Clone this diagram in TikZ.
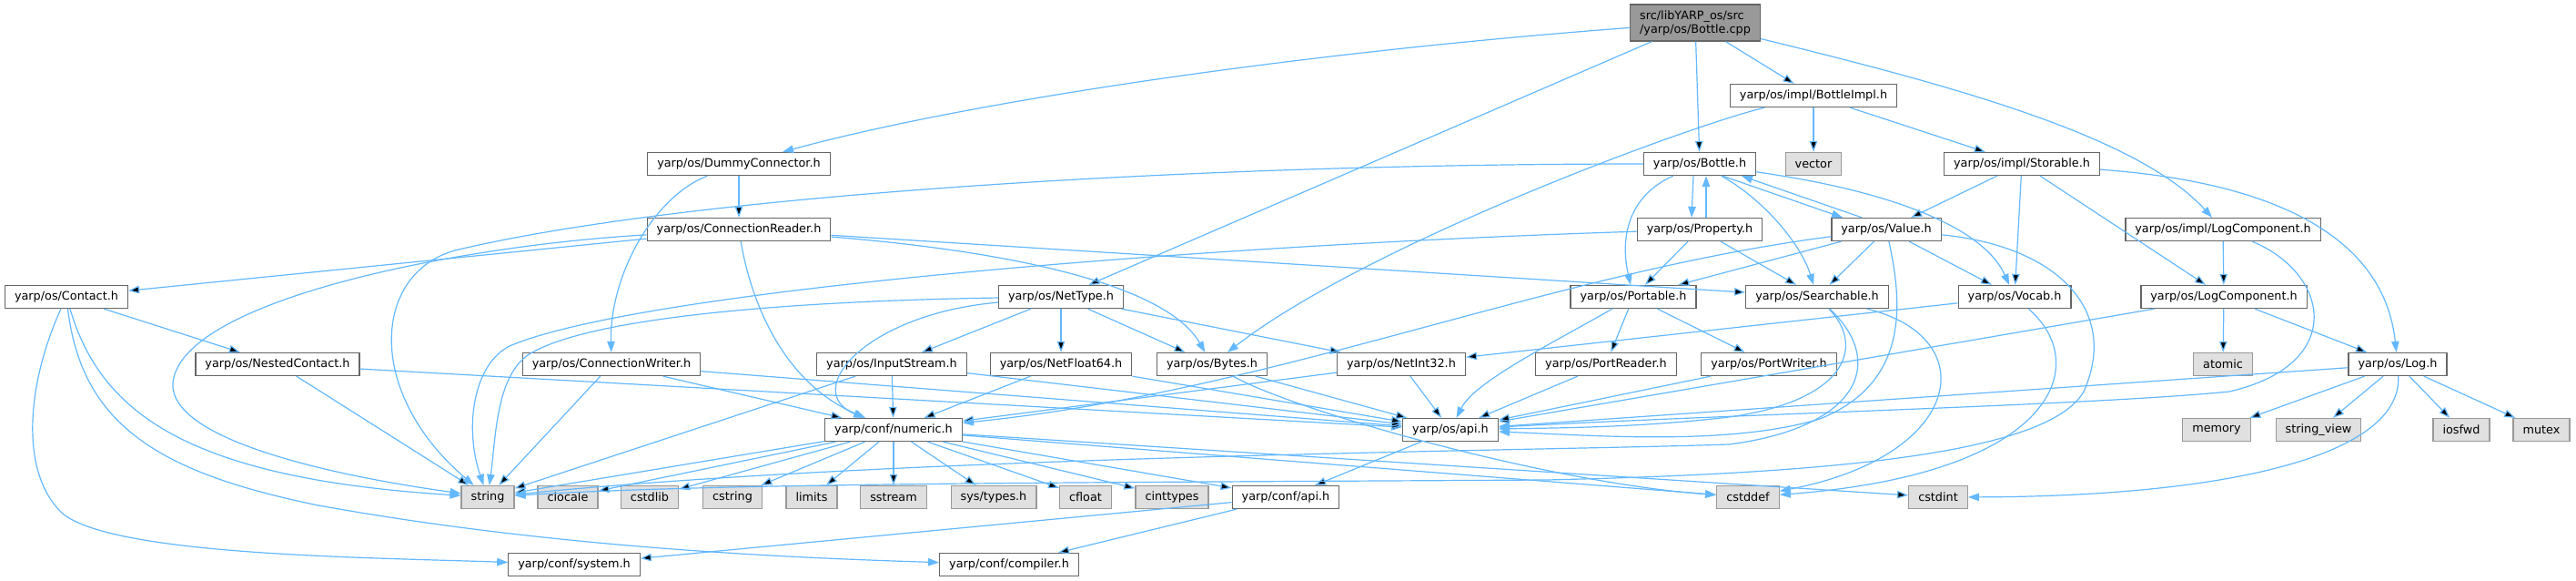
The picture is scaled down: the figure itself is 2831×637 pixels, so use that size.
\documentclass[tikz,border=0pt]{standalone}
\usepackage{fontspec}
\setmainfont{DejaVu Sans}
\usetikzlibrary{arrows.meta}
\definecolor{edgeblue}{HTML}{63B8FF}
\definecolor{boxline}{HTML}{666666}
\definecolor{sysline}{HTML}{999999}
\definecolor{sysfill}{HTML}{E0E0E0}
\definecolor{rootfill}{HTML}{999999}
\tikzset{
  incbox/.style={draw=boxline, fill=white, line width=1.3pt, minimum height=25pt,
    inner xsep=10.5pt, inner ysep=0pt, font=\fontsize{12.8}{15}\selectfont},
  sysbox/.style={incbox, draw=sysline, fill=sysfill},
  rootbox/.style={incbox, fill=rootfill, minimum height=40pt, align=left},
  dep/.style={draw=edgeblue, line width=1.2pt, -{Triangle[length=12pt,width=8.5pt]}}
}
\begin{document}
\begin{tikzpicture}[x=1pt,y=-1pt]
\useasboundingbox (0,0) rectangle (2831,637);
% rows of headers, top to bottom
\node[rootbox] (bottle_cpp) at (1863,25) {src/libYARP\_os/src\\/yarp/os/Bottle.cpp};
\node[incbox] (bottle_impl) at (1993,105) {yarp/os/impl/BottleImpl.h};

\node[incbox] (dummy_connector) at (812,180) {yarp/os/DummyConnector.h};
\node[incbox] (bottle_h) at (1868,180) {yarp/os/Bottle.h};
\node[sysbox] (vector) at (1993,180) {vector};
\node[incbox] (storable) at (2222,180) {yarp/os/impl/Storable.h};

\node[incbox] (connection_reader) at (812,252) {yarp/os/ConnectionReader.h};
\node[incbox] (property) at (1868,252) {yarp/os/Property.h};
\node[incbox] (value) at (2073,252) {yarp/os/Value.h};
\node[incbox] (impl_log_component) at (2443,252) {yarp/os/impl/LogComponent.h};

\node[incbox] (contact) at (73,326) {yarp/os/Contact.h};
\node[incbox] (net_type) at (1166,326) {yarp/os/NetType.h};
\node[incbox] (portable) at (1795,326) {yarp/os/Portable.h};
\node[incbox] (searchable) at (1997,326) {yarp/os/Searchable.h};
\node[incbox] (vocab) at (2214,326) {yarp/os/Vocab.h};
\node[incbox] (log_component) at (2444,326) {yarp/os/LogComponent.h};

\node[incbox] (nested_contact) at (305,400) {yarp/os/NestedContact.h};
\node[incbox] (connection_writer) at (672,400) {yarp/os/ConnectionWriter.h};
\node[incbox] (input_stream) at (980,400) {yarp/os/InputStream.h};
\node[incbox] (net_float64) at (1166,400) {yarp/os/NetFloat64.h};
\node[incbox] (bytes) at (1332,400) {yarp/os/Bytes.h};
\node[incbox] (net_int32) at (1540,400) {yarp/os/NetInt32.h};
\node[incbox] (port_reader) at (1765,400) {yarp/os/PortReader.h};
\node[incbox] (port_writer) at (1944,400) {yarp/os/PortWriter.h};
\node[sysbox] (atomic) at (2443,400) {atomic};
\node[incbox] (log_h) at (2635,400) {yarp/os/Log.h};

\node[incbox] (numeric) at (982,472) {yarp/conf/numeric.h};
\node[incbox] (os_api) at (1594,472) {yarp/os/api.h};
\node[sysbox] (memory) at (2436,472) {memory};
\node[sysbox] (string_view) at (2548,472) {string\_view};
\node[sysbox] (iosfwd) at (2705,472) {iosfwd};
\node[sysbox] (mutex) at (2793,472) {mutex};

\node[sysbox] (string) at (536,546) {string};
\node[sysbox] (clocale) at (624,546) {clocale};
\node[sysbox] (cstdlib) at (714,546) {cstdlib};
\node[sysbox] (cstring) at (805,546) {cstring};
\node[sysbox] (limits) at (892,546) {limits};
\node[sysbox] (sstream) at (982,546) {sstream};
\node[sysbox] (sys_types) at (1092,546) {sys/types.h};
\node[sysbox] (cfloat) at (1193,546) {cfloat};
\node[sysbox] (cinttypes) at (1288,546) {cinttypes};
\node[incbox] (conf_api) at (1413,546) {yarp/conf/api.h};
\node[sysbox] (cstddef) at (1921,546) {cstddef};
\node[sysbox] (cstdint) at (2130,546) {cstdint};

\node[incbox] (conf_system) at (631,620) {yarp/conf/system.h};
\node[incbox] (conf_compiler) at (1109,620) {yarp/conf/compiler.h};

% straight includes
\path[dep]
  (bottle_cpp) edge (bottle_h)
  (bottle_cpp) edge (bottle_impl)
  (bottle_cpp) edge (net_type)
  (bottle_impl) edge (vector)
  (bottle_impl) edge (storable)
  (dummy_connector) edge (connection_reader)
  (storable) edge (value)
  (storable) edge (vocab)
  (storable) edge (log_component)
  (impl_log_component) edge (log_component)
  (connection_reader) edge (contact)
  (connection_reader) edge (searchable)
  (property) edge (portable)
  (property) edge (searchable)
  (value) edge (portable)
  (value) edge (searchable)
  (value) edge (vocab)
  (contact) edge (nested_contact)
  (net_type) edge (input_stream)
  (net_type) edge (net_float64)
  (net_type) edge (bytes)
  (net_type) edge (net_int32)
  (portable) edge (port_reader)
  (portable) edge (port_writer)
  (vocab) edge (net_int32)
  (log_component) edge (os_api)
  (log_component) edge (atomic)
  (log_component) edge (log_h)
  (nested_contact) edge (string)
  (nested_contact) edge (os_api)
  (connection_writer) edge (string)
  (connection_writer) edge (numeric)
  (connection_writer) edge (os_api)
  (input_stream) edge (string)
  (input_stream) edge (numeric)
  (input_stream) edge (os_api)
  (net_float64) edge (numeric)
  (net_float64) edge (os_api)
  (bytes) edge (os_api)
  (net_int32) edge (numeric)
  (net_int32) edge (os_api)
  (port_reader) edge (os_api)
  (port_writer) edge (os_api)
  (log_h) edge (os_api)
  (log_h) edge (memory)
  (log_h) edge (string_view)
  (log_h) edge (iosfwd)
  (log_h) edge (mutex)
  (os_api) edge (conf_api)
  (conf_api) edge (conf_system)
  (conf_api) edge (conf_compiler);
\path[dep]
  (numeric) edge (string)
  (numeric) edge (clocale)
  (numeric) edge (cstdlib)
  (numeric) edge (cstring)
  (numeric) edge (limits)
  (numeric) edge (sstream)
  (numeric) edge (sys_types)
  (numeric) edge (cfloat)
  (numeric) edge (cinttypes)
  (numeric) edge (conf_api)
  (numeric) edge (cstddef)
  (numeric) edge (cstdint);

% the pairs that point both ways
\draw[dep] ([xshift=-7pt]bottle_h.south) -- ([xshift=-9pt]property.north);
\draw[dep] ([xshift=7pt]property.north) -- ([xshift=7pt]bottle_h.south);
\draw[dep] ([xshift=25pt]bottle_h.south) -- ([xshift=-48pt]value.north);
\draw[dep] ([xshift=-27pt]value.north) -- ([xshift=46pt]bottle_h.south);

% curved includes
\draw[dep] (bottle_cpp) .. controls (1400,60) and (1050,115) .. (dummy_connector);
\draw[dep] (bottle_cpp) .. controls (2150,95) and (2350,150) .. (impl_log_component);
\draw[dep] (bottle_impl) .. controls (1850,140) and (1500,270) .. (bytes);
\draw[dep] (dummy_connector) .. controls (720,215) and (670,300) .. (connection_writer);
\draw[dep] (bottle_h) .. controls (1300,180) and (750,215) .. (500,275)
  .. controls (410,300) and (400,430) .. (string);
\draw[dep] (bottle_h) .. controls (1790,215) and (1780,260) .. (portable);
\draw[dep] (bottle_h) .. controls (1940,220) and (1980,270) .. (searchable);
\draw[dep] (bottle_h) .. controls (2080,210) and (2180,250) .. (vocab);
\draw[dep] (storable) .. controls (2500,200) and (2620,260) .. (log_h);
\draw[dep] (impl_log_component) .. controls (2560,300) and (2580,400) .. (2450,430)
  .. controls (2300,445) and (1900,455) .. (os_api);
\draw[dep] (connection_reader) .. controls (500,270) and (200,330) .. (190,420)
  .. controls (185,480) and (350,520) .. (string);
\draw[dep] (connection_reader) .. controls (825,330) and (860,420) .. (numeric);
\draw[dep] (connection_reader) .. controls (1100,275) and (1280,310) .. (bytes);
\draw[dep] (property) .. controls (1300,270) and (700,320) .. (560,380)
  .. controls (520,400) and (510,470) .. (string);
\draw[dep] (value) .. controls (1700,300) and (1400,430) .. (numeric);
\draw[dep] (value) .. controls (2090,330) and (2100,420) .. (2000,460)
  .. controls (1900,490) and (1750,478) .. (os_api);
\draw[dep] (value) .. controls (2260,270) and (2330,340) .. (2290,430)
  .. controls (2250,500) and (2000,520) .. (1700,527)
  .. controls (1200,530) and (800,530) .. (string);
\draw[dep] (contact) .. controls (110,450) and (200,525) .. (string);
\draw[dep] (contact) .. controls (30,420) and (20,520) .. (70,565)
  .. controls (130,610) and (400,612) .. (conf_system);
\draw[dep] (contact) .. controls (90,470) and (180,520) .. (350,555)
  .. controls (600,600) and (850,612) .. (conf_compiler);
\draw[dep] (net_type) .. controls (900,330) and (650,345) .. (580,390)
  .. controls (545,415) and (545,480) .. (string);
\draw[dep] (net_type) .. controls (950,345) and (880,430) .. (numeric);
\draw[dep] (portable) .. controls (1700,380) and (1620,420) .. (os_api);
\draw[dep] (searchable) .. controls (2050,380) and (2030,440) .. (1900,458)
  .. controls (1800,470) and (1700,470) .. (os_api);
\draw[dep] (searchable) .. controls (2075,400) and (2040,470) .. (1900,488)
  .. controls (1700,495) and (1000,500) .. (string);
\draw[dep] (searchable) .. controls (2180,370) and (2160,500) .. (cstddef);
\draw[dep] (vocab) .. controls (2300,400) and (2260,520) .. (cstddef);
\draw[dep] (bytes) .. controls (1420,450) and (1700,530) .. (cstddef);
\draw[dep] (log_h) .. controls (2640,500) and (2450,545) .. (cstdint);
\end{tikzpicture}
\end{document}
